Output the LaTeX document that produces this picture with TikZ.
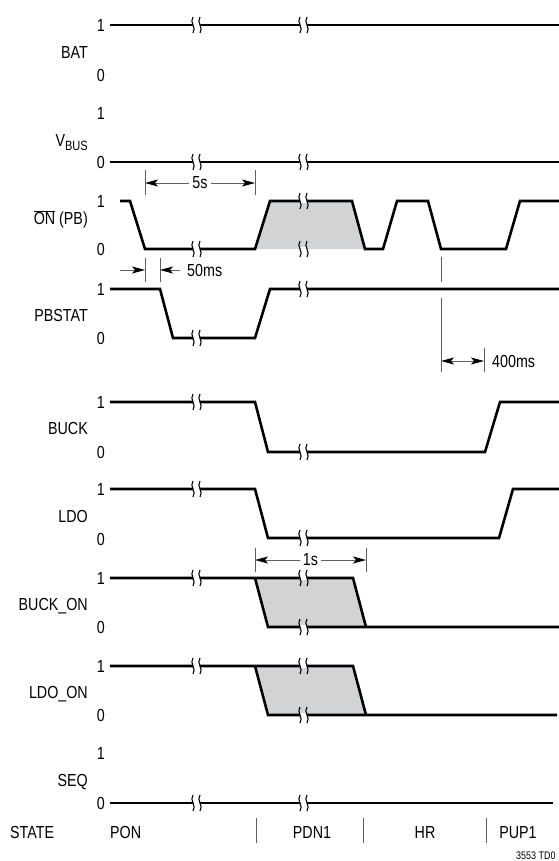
\documentclass[tikz,border=0pt]{standalone}
\usepackage{fontspec}
\setmainfont{Liberation Sans}[FakeStretch=0.82]
\usetikzlibrary{arrows.meta}
\definecolor{greyfill}{RGB}{209,211,212}
\definecolor{dimgray}{RGB}{95,95,95}
% break mark in a trace at (x,y)
\newcommand{\brkmark}[2]{%
  \fill[white] (#1-3.5,#2-2) rectangle (#1+3.5,#2+2);
  \draw[line width=1.1bp] (#1-3.5,#2-8) .. controls (#1-7.5,#2-3) and (#1+0.5,#2+3) .. (#1-3.5,#2+8);
  \draw[line width=1.1bp] (#1+3.5,#2-8) .. controls (#1-0.5,#2-3) and (#1+7.5,#2+3) .. (#1+3.5,#2+8);
}
\tikzset{
  sig/.style={line width=2.6bp, line join=miter},
  dim/.style={line width=0.9bp, dimgray},
  txt/.style={font=\fontsize{17.5}{20}\selectfont, inner sep=0pt},
  lvl/.style={txt, anchor=base east, yshift=-6.3bp},
  signame/.style={txt, anchor=base east, yshift=-6.3bp},
}
\begin{document}
\begin{tikzpicture}[x=1bp, y=-1bp, >={Stealth[length=13bp, width=7bp, inset=3bp, black]}]
  \useasboundingbox (0,0) rectangle (559,861);

  % Zonas sombreadas
  \fill[greyfill] (255,249) -- (270,201) -- (352,201) -- (365,249) -- cycle;
  \fill[greyfill] (255,578) -- (268,627) -- (366,627) -- (353,578) -- cycle;
  \fill[greyfill] (255,666) -- (268,715) -- (366,715) -- (353,666) -- cycle;

  % Señales
  \draw[sig] (110,25) -- (559,25);                                   % BAT
  \draw[sig] (110,162) -- (559,162);                                 % VBUS
  \draw[sig] (120,201) -- (130,201) -- (145,249) -- (255,249)
             -- (270,201) -- (352,201) -- (365,249) -- (383,249)
             -- (397,201) -- (428,201) -- (441,249) -- (506,249)
             -- (520,201) -- (559,201);                              % ON (PB)
  \draw[sig] (110,289) -- (160,289) -- (173,338) -- (255,338)
             -- (270,289) -- (559,289);                              % PBSTAT
  \draw[sig] (110,402) -- (255,402) -- (268,452) -- (485,452)
             -- (500,402) -- (559,402);                              % BUCK
  \draw[sig] (110,489) -- (255,489) -- (268,538) -- (499,538)
             -- (513,489) -- (559,489);                              % LDO
  \draw[sig] (110,578) -- (353,578) -- (366,627);                    % BUCK_ON
  \draw[sig] (255,578) -- (268,627) -- (559,627);
  \draw[sig] (110,666) -- (353,666) -- (366,715);                    % LDO_ON
  \draw[sig] (255,666) -- (268,715) -- (557,715);
  \draw[sig] (110,803) -- (553,803);                                 % SEQ

  % Cortes de tiempo
  \brkmark{196.5}{25}  \brkmark{303.5}{25}
  \brkmark{196.5}{162} \brkmark{303.5}{162}
  \brkmark{196.5}{249} \brkmark{303.5}{201} \brkmark{303.5}{249}
  \brkmark{196.5}{338} \brkmark{303.5}{289}
  \brkmark{196.5}{402} \brkmark{303.5}{452}
  \brkmark{196.5}{489} \brkmark{303.5}{538}
  \brkmark{196.5}{578} \brkmark{303.5}{578} \brkmark{303.5}{627}
  \brkmark{196.5}{666} \brkmark{303.5}{666} \brkmark{303.5}{715}
  \brkmark{196.5}{803} \brkmark{303.5}{803}

  % Niveles
  \node[lvl] (bat1) at (105,25) {1};
  \node[lvl] (bat0) at (105,75) {0};
  \node[lvl] (vbus1) at (105,113) {1};
  \node[lvl] (vbus0) at (105,162) {0};
  \node[lvl] (on1) at (105,201) {1};
  \node[lvl] (on0) at (105,249) {0};
  \node[lvl] (pb1) at (105,289) {1};
  \node[lvl] (pb0) at (105,338) {0};
  \node[lvl] (buck1) at (105,402) {1};
  \node[lvl] (buck0) at (105,452) {0};
  \node[lvl] (ldo1) at (105,489) {1};
  \node[lvl] (ldo0) at (105,539) {0};
  \node[lvl] (bon1) at (105,578) {1};
  \node[lvl] (bon0) at (105,627) {0};
  \node[lvl] (lon1) at (105,666) {1};
  \node[lvl] (lon0) at (105,715) {0};
  \node[lvl] (seq1) at (105,753) {1};
  \node[lvl] (seq0) at (105,803) {0};

  % Nombres de señal
  \node[signame] (nbat) at (88,52) {BAT};
  \node[signame] (nvbus) at (88,140) {V\raisebox{-4bp}{\fontsize{13.5}{15}\selectfont BUS}};
  \node[signame] (non) at (88,218) {$\overline{\mbox{ON}}$ (PB)};
  \node[signame] (npb) at (88,315) {PBSTAT};
  \node[signame] (nbuck) at (88,428) {BUCK};
  \node[signame] (nldo) at (88,516) {LDO};
  \node[signame] (nbon) at (88,604) {BUCK\_ON};
  \node[signame] (nlon) at (88,692) {LDO\_ON};
  \node[signame] (nseq) at (88,780) {SEQ};

  % Cotas de tiempo
  \coordinate (a5) at (145,183);
  \coordinate (b5) at (255,183);
  \draw[dim] (145,170) -- (145,195);
  \draw[dim] (255,170) -- (255,195);
  \draw[dim, <->] (a5) -- (b5) node[txt, midway, fill=white, inner xsep=3bp, text=black] {5s};

  \coordinate (a50) at (145,270);
  \coordinate (b50) at (160,270);
  \draw[dim] (145,258) -- (145,282);
  \draw[dim] (160,258) -- (160,282);
  \draw[dim, ->] (120,270) -- (a50);
  \draw[dim, ->] (180,270) -- (b50);
  \node[txt, anchor=base west, yshift=-6.3bp] (l50) at (187,270) {50ms};

  \coordinate (a400) at (441,361);
  \coordinate (b400) at (484,361);
  \draw[dim] (441,257) -- (441,282);
  \draw[dim] (441,298) -- (441,372);
  \draw[dim] (484,348) -- (484,372);
  \draw[dim, <->] (a400) -- (b400);
  \node[txt, anchor=base west, yshift=-6.3bp] (l400) at (492,361) {400ms};

  \coordinate (a1) at (255,560);
  \coordinate (b1) at (366,560);
  \draw[dim] (255,548) -- (255,572);
  \draw[dim] (366,548) -- (366,572);
  \draw[dim, <->] (a1) -- (b1) node[txt, midway, fill=white, inner xsep=3bp, text=black] {1s};

  % Estados
  \node[txt, anchor=base west, yshift=-6.3bp] (state) at (10,832) {STATE};
  \node[txt, anchor=base west, yshift=-6.3bp] (pon) at (110,832) {PON};
  \node[txt, anchor=base, yshift=-6.3bp] (pdn) at (312,832) {PDN1};
  \node[txt, anchor=base, yshift=-6.3bp] (hr) at (425,832) {HR};
  \node[txt, anchor=base, yshift=-6.3bp] (pup) at (518,832) {PUP1};
  \draw[dim] (256,818) -- (256,843);
  \draw[dim] (363,818) -- (363,843);
  \draw[dim] (486,818) -- (486,843);

  \node[font=\fontsize{11}{12}\selectfont, anchor=base west, inner sep=0pt] (code) at (516,859) {3553 TD0};
\end{tikzpicture}
\end{document}
